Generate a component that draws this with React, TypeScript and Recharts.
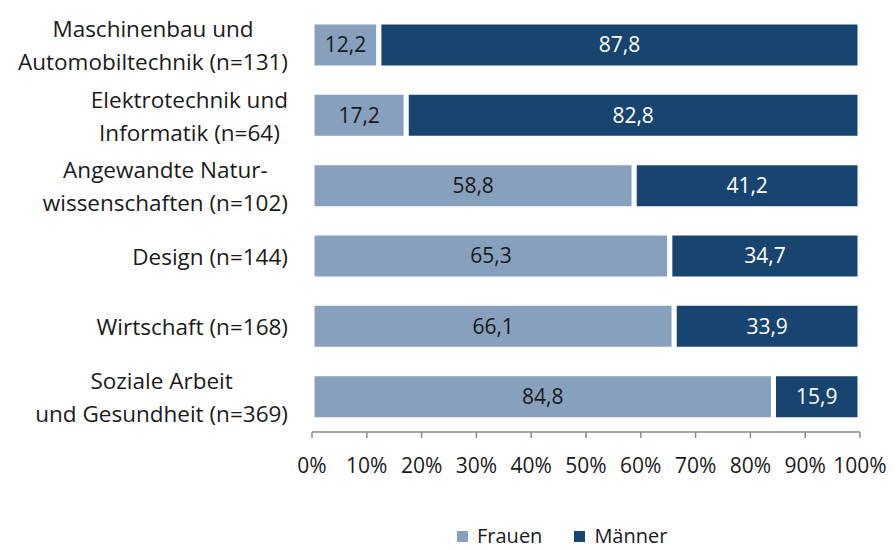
import {
  BarChart,
  Bar,
  XAxis,
  YAxis,
  LabelList,
} from 'recharts';

const categories: string[] = [
  'Maschinenbau und\nAutomobiltechnik (n=131)',
  'Elektrotechnik und\nInformatik (n=64)',
  'Angewandte Natur-\nwissenschaften (n=102)',
  'Design (n=144)',
  'Wirtschaft (n=168)',
  'Soziale Arbeit\nund Gesundheit (n=369)',
];
const frauen: number[] = [12.2, 17.2, 58.8, 65.3, 66.1, 84.8];
const maenner: number[] = [87.8, 82.8, 41.2, 34.7, 33.9, 15.9];
const seriesNames: string[] = ['Frauen', 'Männer'];
const xTicks: number[] = [0, 0.1, 0.2, 0.3, 0.4, 0.5, 0.6, 0.7, 0.8, 0.9, 1];
const bandTicks: number[] = [0, 1, 2, 3, 4, 5, 6];

const data = categories.map((name, i) => ({
  name,
  frauen: frauen[i],
  maenner: maenner[i],
}));

const LIGHT = '#87a0bd';
const DARK = '#184470';
const AXIS = '#8a8a8a';
const TEXT = '#1a1a1a';
const FONT = '"Open Sans", sans-serif';

const fmt = (v: any) => Number(v).toFixed(1).replace('.', ',');

// wrapped lines are centred among themselves, the block sits right-aligned
function CategoryTick({ x, y, payload }: any) {
  const lines: string[] = String(payload.value).split('\n');
  const w = 300;
  const h = 70;
  return (
    <foreignObject x={x - w} y={y - h / 2} width={w} height={h}>
      <div
        style={{
          width: w,
          height: h,
          display: 'flex',
          justifyContent: 'flex-end',
          alignItems: 'center',
        }}
      >
        <div
          style={{
            textAlign: 'center',
            fontFamily: FONT,
            fontSize: 22.5,
            lineHeight: '33px',
            color: TEXT,
            whiteSpace: 'nowrap',
          }}
        >
          {lines.map((l, i) => (
            <div key={i}>{l}</div>
          ))}
        </div>
      </div>
    </foreignObject>
  );
}

export default function App() {
  const colors = [LIGHT, DARK];
  return (
    <div style={{ position: 'absolute', left: 0, top: 0, width: 896, height: 550, background: '#fff' }}>
      <BarChart
        width={896}
        height={550}
        data={data}
        layout="vertical"
        stackOffset="expand"
        barSize={46}
        margin={{ top: 10, right: 36, left: 0, bottom: 88 }}
      >
        <Bar dataKey="frauen" name={seriesNames[0]} stackId="a" fill={LIGHT} stroke="#fff" strokeWidth={5} isAnimationActive={false}>
          <LabelList dataKey="frauen" position="center" formatter={fmt} fill={TEXT} stroke="none" fontSize={21} fontFamily={FONT} />
        </Bar>
        <Bar dataKey="maenner" name={seriesNames[1]} stackId="a" fill={DARK} stroke="#fff" strokeWidth={5} isAnimationActive={false}>
          <LabelList dataKey="maenner" position="center" formatter={fmt} fill="#ffffff" stroke="none" fontSize={21} fontFamily={FONT} />
        </Bar>
        <YAxis
          yAxisId="grid"
          type="number"
          domain={[0, 6]}
          ticks={bandTicks}
          interval={0}
          width={0}
          tick={() => <g />}
          tickSize={6}
          axisLine={{ stroke: AXIS, strokeWidth: 1.5 }}
          tickLine={{ stroke: AXIS, strokeWidth: 1.5 }}
        />
        <YAxis
          type="category"
          dataKey="name"
          width={312}
          axisLine={false}
          tickLine={false}
          tickMargin={18}
          interval={0}
          tick={<CategoryTick />}
        />
        <XAxis
          type="number"
          domain={[0, 1]}
          ticks={xTicks}
          interval={0}
          height={30}
          tickFormatter={(v: number) => `${Math.round(v * 100)}%`}
          tickSize={6}
          tickMargin={20}
          axisLine={{ stroke: AXIS, strokeWidth: 1.5 }}
          tickLine={{ stroke: AXIS, strokeWidth: 1.5 }}
          tick={{ fill: TEXT, fontSize: 21, fontFamily: FONT }}
        />
      </BarChart>
      <div
        style={{
          position: 'absolute',
          top: 525,
          left: 457,
          display: 'flex',
          alignItems: 'center',
          fontFamily: FONT,
          fontSize: 20,
          lineHeight: '22px',
          color: TEXT,
          whiteSpace: 'nowrap',
        }}
      >
        {seriesNames.map((n, i) => (
          <div key={n} style={{ display: 'flex', alignItems: 'center', marginRight: 32 }}>
            <span style={{ display: 'inline-block', width: 11, height: 11, background: colors[i], marginRight: 9 }} />
            <span>{n}</span>
          </div>
        ))}
      </div>
    </div>
  );
}
